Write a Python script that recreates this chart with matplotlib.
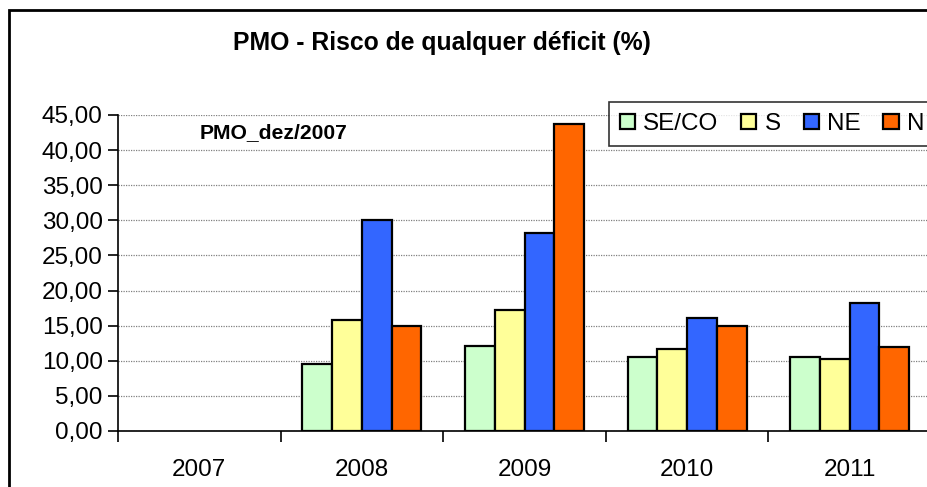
import numpy as np
import matplotlib
matplotlib.use("Agg")
import matplotlib.pyplot as plt
from matplotlib.patches import Rectangle, Patch
from matplotlib.ticker import FuncFormatter

plt.rcParams['font.family'] = ['Liberation Sans', 'DejaVu Sans']

# data
anos = ['2007', '2008', '2009', '2010', '2011']
subsistemas = ['SE/CO', 'S', 'NE', 'N']
se_co = [0.0, 9.6, 12.1, 10.5, 10.5]
sul = [0.0, 15.8, 17.3, 11.7, 10.2]
nordeste = [0.0, 30.1, 28.2, 16.1, 18.2]
norte = [0.0, 15.0, 43.7, 15.0, 12.0]
cores = ['#CCFFCC', '#FFFF99', '#3366FF', '#FF6600']

series = [se_co, sul, nordeste, norte]

fig = plt.figure(figsize=(9.28, 4.87), dpi=100)
ax = fig.add_axes([118 / 928, 56 / 487, 813 / 928, 316 / 487])

x = np.arange(len(anos))
w = 0.183
for i, (vals, nome, cor) in enumerate(zip(series, subsistemas, cores)):
    barras = ax.bar(x + (i - 1.5) * w, vals, w, color=cor, edgecolor='black',
                    linewidth=1.6, zorder=3)
    # zero-height bars are not drawn in the original
    for b, v in zip(barras, vals):
        if v == 0:
            b.set_visible(False)

ax.set_xlim(-0.5, len(anos) - 0.5)
ax.set_ylim(0, 45)
ax.set_yticks(np.arange(0, 46, 5))
ax.yaxis.set_major_formatter(FuncFormatter(lambda v, p: f"{v:.2f}".replace('.', ',')))
ax.set_xticks(np.arange(-0.5, len(anos), 1.0))
ax.set_xticklabels([])
ax.set_xticks(x, minor=True)
ax.set_xticklabels(anos, minor=True)
ax.tick_params(axis='x', which='minor', length=0, pad=20, labelsize=17.5)
ax.tick_params(axis='x', which='major', length=8, width=1.2, direction='out')
ax.tick_params(axis='y', length=7, width=1.2, labelsize=17.5, pad=4)

ax.grid(axis='y', color='#808080', linestyle=(0, (1, 1)), linewidth=0.9, zorder=0)
ax.spines['top'].set_visible(False)
ax.spines['right'].set_visible(False)
ax.spines['left'].set_linewidth(1.2)
ax.spines['bottom'].set_linewidth(1.2)

fig.text(442 / 928, 1 - 43 / 487, 'PMO - Risco de qualquer déficit (%)',
         ha='center', va='center', fontsize=17.8, fontweight='bold')
ax.text(200 / 928, 1 - 133 / 487, 'PMO_dez/2007', transform=fig.transFigure,
        ha='left', va='center', fontsize=15.2, fontweight='bold')

handles = [Patch(facecolor=c, edgecolor='black', linewidth=1.6) for c in cores]
leg = ax.legend(handles, subsistemas, ncol=4, loc='upper left',
                bbox_to_anchor=(609 / 928, 1 - 102 / 487),
                bbox_transform=fig.transFigure, fontsize=17.5, frameon=True,
                fancybox=False, borderaxespad=0, handlelength=0.62, handleheight=0.62,
                handletextpad=0.33, columnspacing=0.95, borderpad=0.45)
leg.get_frame().set_edgecolor('black')
leg.get_frame().set_linewidth(1.2)

fig.patches.append(Rectangle((9 / 928, -0.1), 1.2, (487 - 10) / 487 + 0.1,
                             transform=fig.transFigure, fill=False,
                             edgecolor='black', linewidth=2))

fig.savefig('out.png', dpi=100)
